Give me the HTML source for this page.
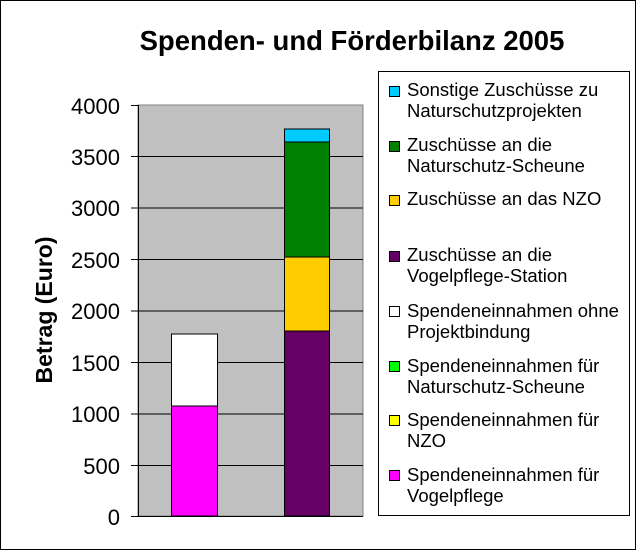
<!DOCTYPE html>
<html><head><meta charset="utf-8"><style>
body{margin:0;background:#fff}
svg text{font-family:"Liberation Sans",Arial,sans-serif}
</style></head><body>
<svg width="636" height="550" xmlns="http://www.w3.org/2000/svg">
<rect x="0.5" y="0.5" width="635" height="549" fill="#fff" stroke="#000"/>
<text x="352" y="50" font-size="27.5" font-weight="bold" text-anchor="middle">Spenden- und Förderbilanz 2005</text>
<rect x="138" y="105" width="225" height="411" fill="#c0c0c0" stroke="#808080"/>
<g stroke="#000" stroke-width="1">
<line x1="138" y1="156.5" x2="363" y2="156.5"/>
<line x1="138" y1="208" x2="363" y2="208"/>
<line x1="138" y1="259.5" x2="363" y2="259.5"/>
<line x1="138" y1="311" x2="363" y2="311"/>
<line x1="138" y1="362.5" x2="363" y2="362.5"/>
<line x1="138" y1="414" x2="363" y2="414"/>
<line x1="138" y1="465.5" x2="363" y2="465.5"/>
<line x1="138.5" y1="105" x2="138.5" y2="516"/>
<line x1="131" y1="516.5" x2="363" y2="516.5"/>
<line x1="131" y1="105.5" x2="138" y2="105.5"/>
<line x1="131" y1="156.5" x2="138" y2="156.5"/>
<line x1="131" y1="208" x2="138" y2="208"/>
<line x1="131" y1="259.5" x2="138" y2="259.5"/>
<line x1="131" y1="311" x2="138" y2="311"/>
<line x1="131" y1="362.5" x2="138" y2="362.5"/>
<line x1="131" y1="414" x2="138" y2="414"/>
<line x1="131" y1="465.5" x2="138" y2="465.5"/>
</g>
<g font-size="22" text-anchor="end">
<text x="120" y="114">4000</text><text x="120" y="165">3500</text><text x="120" y="216">3000</text>
<text x="120" y="268">2500</text><text x="120" y="319">2000</text><text x="120" y="371">1500</text>
<text x="120" y="422">1000</text><text x="120" y="474">500</text><text x="120" y="525">0</text>
</g>
<text transform="translate(52,310) rotate(-90)" font-size="23" font-weight="bold" text-anchor="middle">Betrag (Euro)</text>
<g stroke="#000" stroke-width="1">
<rect x="171.5" y="406" width="46" height="110" fill="#ff00ff"/>
<rect x="171.5" y="334" width="46" height="72" fill="#fff"/>
<rect x="284.5" y="331" width="45" height="185" fill="#660066"/>
<rect x="284.5" y="257" width="45" height="74" fill="#ffcc00"/>
<rect x="284.5" y="142" width="45" height="115" fill="#008000"/>
<rect x="284.5" y="129" width="45" height="13" fill="#00ccff"/>
</g>
<rect x="378.5" y="71.5" width="251" height="444" fill="#fff" stroke="#000"/>
<g stroke="#000">
<rect x="389.5" y="86.5" width="10" height="10" fill="#00ccff"/>
<rect x="389.5" y="141.5" width="10" height="10" fill="#008000"/>
<rect x="389.5" y="195.5" width="10" height="10" fill="#ffcc00"/>
<rect x="389.5" y="251.5" width="10" height="10" fill="#660066"/>
<rect x="389.5" y="306.5" width="10" height="10" fill="#fff"/>
<rect x="389.5" y="361.5" width="10" height="10" fill="#00ff00"/>
<rect x="389.5" y="415.5" width="10" height="10" fill="#ffff00"/>
<rect x="389.5" y="470.5" width="10" height="10" fill="#ff00ff"/>
</g>
<g font-size="18.5">
<text x="407" y="96">Sonstige Zuschüsse zu</text><text x="407" y="117">Naturschutzprojekten</text>
<text x="407" y="151">Zuschüsse an die</text><text x="407" y="172">Naturschutz-Scheune</text>
<text x="407" y="205">Zuschüsse an das NZO</text>
<text x="407" y="261">Zuschüsse an die</text><text x="407" y="282">Vogelpflege-Station</text>
<text x="407" y="317">Spendeneinnahmen ohne</text><text x="407" y="338">Projektbindung</text>
<text x="407" y="372">Spendeneinnahmen für</text><text x="407" y="393">Naturschutz-Scheune</text>
<text x="407" y="426">Spendeneinnahmen für</text><text x="407" y="447">NZO</text>
<text x="407" y="481">Spendeneinnahmen für</text><text x="407" y="502">Vogelpflege</text>
</g>
</svg>
</body></html>
